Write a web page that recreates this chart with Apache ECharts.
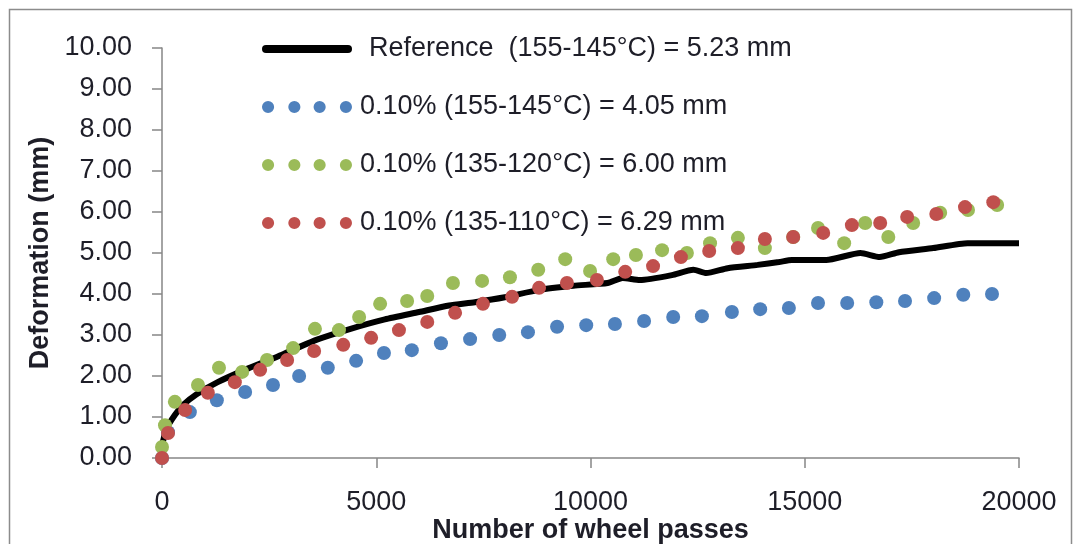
<!DOCTYPE html>
<html>
<head>
<meta charset="utf-8">
<script src="https://cdn.jsdelivr.net/npm/echarts@6/dist/echarts.min.js"></script>
<style>
  html, body { margin: 0; padding: 0; background: #fff; }
  #main { width: 1076px; height: 544px; }
</style>
</head>
<body>
<div id="main"></div>
<script>
// legend names
var seriesNames = [
  'Reference  (155-145°C) = 5.23 mm',
  '0.10% (155-145°C) = 4.05 mm',
  '0.10% (135-120°C) = 6.00 mm',
  '0.10% (135-110°C) = 6.29 mm'
];

// [wheel passes, deformation mm]
var refData = [
  [0, 0.3], [100, 0.7], [300, 1.05], [500, 1.3], [800, 1.55], [1300, 1.85],
  [2000, 2.18], [2800, 2.52], [3600, 2.88], [4400, 3.15], [5200, 3.38],
  [6000, 3.56], [6700, 3.72], [7300, 3.8], [8000, 3.92], [8800, 4.1],
  [9600, 4.2], [10400, 4.27], [10750, 4.39], [11150, 4.34], [11900, 4.46],
  [12400, 4.59], [12700, 4.51], [13200, 4.63], [13900, 4.71], [14400, 4.78],
  [14700, 4.83], [15500, 4.83], [16300, 5.0], [16750, 4.9], [17200, 5.02],
  [18000, 5.12], [18800, 5.24], [19400, 5.24], [20000, 5.24]
];

var blueData = [
  [0, 0], [140, 0.63], [650, 1.12], [1280, 1.41], [1940, 1.61], [2590, 1.78],
  [3200, 2.0], [3870, 2.2], [4530, 2.37], [5180, 2.56], [5830, 2.63],
  [6510, 2.8], [7190, 2.9], [7870, 3.0], [8540, 3.07], [9220, 3.2],
  [9900, 3.24], [10570, 3.27], [11250, 3.34], [11930, 3.44], [12600, 3.46],
  [13300, 3.56], [13960, 3.63], [14630, 3.66], [15310, 3.78], [15990, 3.78],
  [16670, 3.8], [17340, 3.83], [18020, 3.9], [18700, 3.98], [19370, 4.0]
];

var greenData = [
  [0, 0.27], [70, 0.8], [300, 1.37], [840, 1.78], [1330, 2.2], [1870, 2.1],
  [2450, 2.39], [3060, 2.68], [3570, 3.15], [4130, 3.12], [4600, 3.44],
  [5090, 3.76], [5720, 3.83], [6190, 3.95], [6790, 4.27], [7470, 4.32],
  [8120, 4.41], [8780, 4.59], [9410, 4.85], [9990, 4.56], [10530, 4.85],
  [11060, 4.95], [11670, 5.07], [12250, 5.0], [12790, 5.24], [13440, 5.37],
  [14070, 5.12], [14730, 5.39], [15310, 5.61], [15920, 5.24], [16410, 5.73],
  [16950, 5.39], [17530, 5.73], [18160, 5.98], [18810, 6.05], [19490, 6.17]
];

var redData = [
  [0, 0], [140, 0.61], [540, 1.17], [1070, 1.59], [1700, 1.85], [2290, 2.15],
  [2920, 2.39], [3550, 2.61], [4230, 2.76], [4880, 2.93], [5530, 3.12],
  [6190, 3.32], [6840, 3.54], [7490, 3.76], [8170, 3.93], [8800, 4.15],
  [9450, 4.27], [10150, 4.34], [10810, 4.54], [11460, 4.68], [12110, 4.9],
  [12770, 5.05], [13440, 5.12], [14070, 5.34], [14730, 5.39], [15430, 5.49],
  [16100, 5.68], [16760, 5.73], [17390, 5.88], [18070, 5.95], [18740, 6.12],
  [19400, 6.24]
];

var colors = ['#000000', '#4f81bd', '#9bbb59', '#c0504d'];

// legend icons
var lineIcon = 'path://M4,0L86,0A4,4 0 0 1 86,8L4,8A4,4 0 0 1 4,0Z';
var dotsIcon = 'path://M0,6a6,6 0 1,0 12,0a6,6 0 1,0 -12,0Z' +
  'M26,6a6,6 0 1,0 12,0a6,6 0 1,0 -12,0Z' +
  'M51,6a6,6 0 1,0 12,0a6,6 0 1,0 -12,0Z' +
  'M77,6a6,6 0 1,0 12,0a6,6 0 1,0 -12,0Z';

var font = 'Liberation Sans, Arial, sans-serif';
var myChart = echarts.init(document.getElementById('main'));

function dots(i, data) {
  return {
    name: seriesNames[i],
    type: 'scatter',
    data: data,
    symbolSize: 14,
    itemStyle: { color: colors[i], opacity: 1 },
    z: 2 + i
  };
}

myChart.setOption({
  animation: false,
  backgroundColor: '#fff',
  graphic: [{
    type: 'rect',
    left: 7, top: 7,
    shape: { width: 1062, height: 560 },
    style: { fill: 'none', stroke: '#8c8c8c', lineWidth: 1.5 }
  }],
  grid: { left: 162, right: 57, top: 48, bottom: 86, outerBoundsMode: 'none' },
  legend: {
    orient: 'vertical',
    left: 262,
    top: 34,
    padding: 0,
    itemWidth: 90,
    itemHeight: 13,
    itemGap: 28,
    selectedMode: false,
    textStyle: { fontFamily: font, fontSize: 27, color: '#1e1e28', lineHeight: 30 },
    data: [
      { name: seriesNames[0], icon: lineIcon, textStyle: { padding: [0, 0, 0, 12] } },
      { name: seriesNames[1], icon: dotsIcon, textStyle: { padding: [0, 0, 0, 3] } },
      { name: seriesNames[2], icon: dotsIcon, textStyle: { padding: [0, 0, 0, 3] } },
      { name: seriesNames[3], icon: dotsIcon, textStyle: { padding: [0, 0, 0, 3] } }
    ]
  },
  xAxis: {
    type: 'value',
    min: 0, max: 20000, interval: 5000,
    name: 'Number of wheel passes',
    nameLocation: 'middle',
    nameGap: 59,
    nameMoveOverlap: false,
    nameTextStyle: { fontFamily: font, fontSize: 27, fontWeight: 'bold', color: '#1e1e28' },
    axisLine: { lineStyle: { color: '#868686', width: 1.5 } },
    axisTick: { show: true, length: 10, lineStyle: { color: '#868686', width: 1.5 } },
    axisLabel: {
      fontFamily: font, fontSize: 27, color: '#1e1e28', margin: 31,
      formatter: function (v) { return String(v); }
    },
    splitLine: { show: false }
  },
  yAxis: {
    type: 'value',
    min: 0, max: 10, interval: 1,
    name: 'Deformation (mm)',
    nameLocation: 'middle',
    nameGap: 108,
    nameMoveOverlap: false,
    nameRotate: 90,
    nameTextStyle: { fontFamily: font, fontSize: 27, fontWeight: 'bold', color: '#1e1e28' },
    axisLine: { show: true, lineStyle: { color: '#868686', width: 1.5 } },
    axisTick: { show: true, length: 10, lineStyle: { color: '#868686', width: 1.5 } },
    axisLabel: {
      fontFamily: font, fontSize: 27, color: '#1e1e28', margin: 30,
      formatter: function (v) { return v.toFixed(2); }
    },
    splitLine: { show: false }
  },
  series: [
    {
      name: seriesNames[0],
      type: 'line',
      data: refData,
      showSymbol: false,
      smooth: 0.2,
      itemStyle: { color: colors[0] },
      lineStyle: { color: colors[0], width: 6 },
      z: 1
    },
    dots(1, blueData),
    dots(2, greenData),
    dots(3, redData)
  ]
});
</script>
</body>
</html>
